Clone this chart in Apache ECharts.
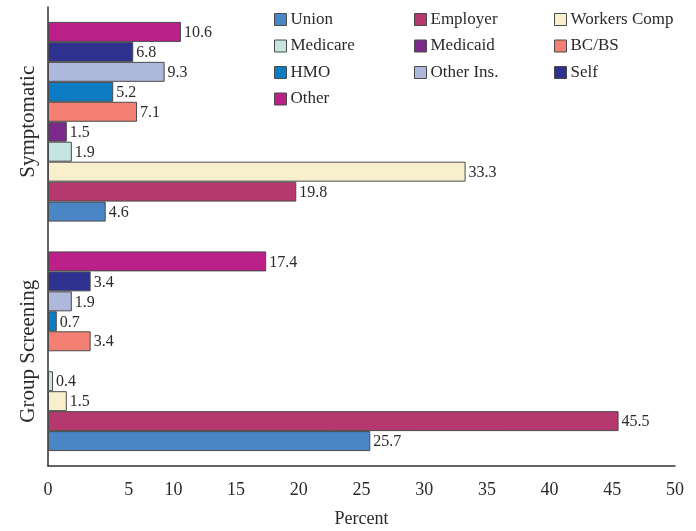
<!DOCTYPE html>
<html>
<head>
<meta charset="utf-8">
<script src="https://cdn.jsdelivr.net/npm/echarts@6/dist/echarts.min.js"></script>
<style>html,body{margin:0;padding:0;background:#fff}#c{width:696px;height:531px}</style>
</head>
<body>
<div id="c"></div>
<script>
var categories = ['Symptomatic', 'Group Screening'];
var seriesNames = ['Union', 'Employer', 'Workers Comp', 'Medicare', 'Medicaid', 'BC/BS', 'HMO', 'Other Ins.', 'Self', 'Other'];
var symptomatic = [4.6, 19.8, 33.3, 1.9, 1.5, 7.1, 5.2, 9.3, 6.8, 10.6];
var groupScreening = [25.7, 45.5, 1.5, 0.4, null, 3.4, 0.7, 1.9, 3.4, 17.4];
var colors = ['#4a86c5', '#b5386f', '#f8f0cd', '#c5e5e0', '#7b2a8c', '#f48074', '#0b7cc3', '#aeb8dc', '#2e3190', '#bb2088'];
var xTicks = [0, 5, 10, 15, 20, 25, 30, 35, 40, 45, 50];

var font = 'Liberation Serif, Times New Roman, serif';
var chart = echarts.init(document.getElementById('c'), null, {renderer: 'canvas'});

var series = seriesNames.map(function (name, i) {
  return {
    name: name,
    type: 'bar',
    barGap: '0%',
    barCategoryGap: '13%',
    data: [symptomatic[i], groupScreening[i]],
    itemStyle: {color: colors[i], borderColor: '#4a4a4a', borderWidth: 1},
    label: {
      show: true, position: 'right', distance: 3, offset: [0, 1],
      fontFamily: font, fontSize: 16, color: '#2a2a2a',
      formatter: function (p) { return p.value == null ? '' : p.value.toFixed(1); }
    }
  };
}).reverse();

function legendCol(names, left) {
  return {
    orient: 'vertical', left: left, top: 6,
    data: names, itemWidth: 12, itemHeight: 12, itemGap: 9.5,
    icon: 'rect',
    itemStyle: {borderColor: '#4a4a4a', borderWidth: 1},
    textStyle: {fontFamily: font, fontSize: 17, color: '#2a2a2a', padding: [0, 0, 0, -1]}
  };
}

chart.setOption({
  animation: false,
  backgroundColor: '#ffffff',
  color: colors,
  legend: [
    legendCol(['Union', 'Medicare', 'HMO', 'Other'], 269),
    legendCol(['Employer', 'Medicaid', 'Other Ins.'], 409),
    legendCol(['Workers Comp', 'BC/BS', 'Self'], 549)
  ],
  grid: {left: 48, right: 21, top: 7, bottom: 65, containLabel: false, outerBoundsMode: 'none'},
  xAxis: {
    type: 'value', min: xTicks[0], max: xTicks[xTicks.length - 1], interval: 5,
    name: 'Percent', nameLocation: 'middle', nameGap: 44,
    nameTextStyle: {fontFamily: font, fontSize: 18, color: '#2a2a2a'},
    axisLine: {show: true, lineStyle: {color: '#333', width: 1.5}},
    axisTick: {show: false},
    splitLine: {show: false},
    axisLabel: {
      fontFamily: font, fontSize: 18, color: '#2a2a2a', margin: 15,
      formatter: function (v) { return v === 5 ? '{s|5}' : String(v); },
      rich: {s: {fontFamily: font, fontSize: 18, color: '#2a2a2a', padding: [0, 0, 0, 36]}}
    }
  },
  yAxis: {
    type: 'category', data: categories, inverse: true,
    axisLine: {show: true, lineStyle: {color: '#333', width: 1.5}},
    axisTick: {show: false},
    axisLabel: {rotate: 90, fontFamily: font, fontSize: 21, color: '#2a2a2a', margin: 9}
  },
  series: series
});
</script>
</body>
</html>
